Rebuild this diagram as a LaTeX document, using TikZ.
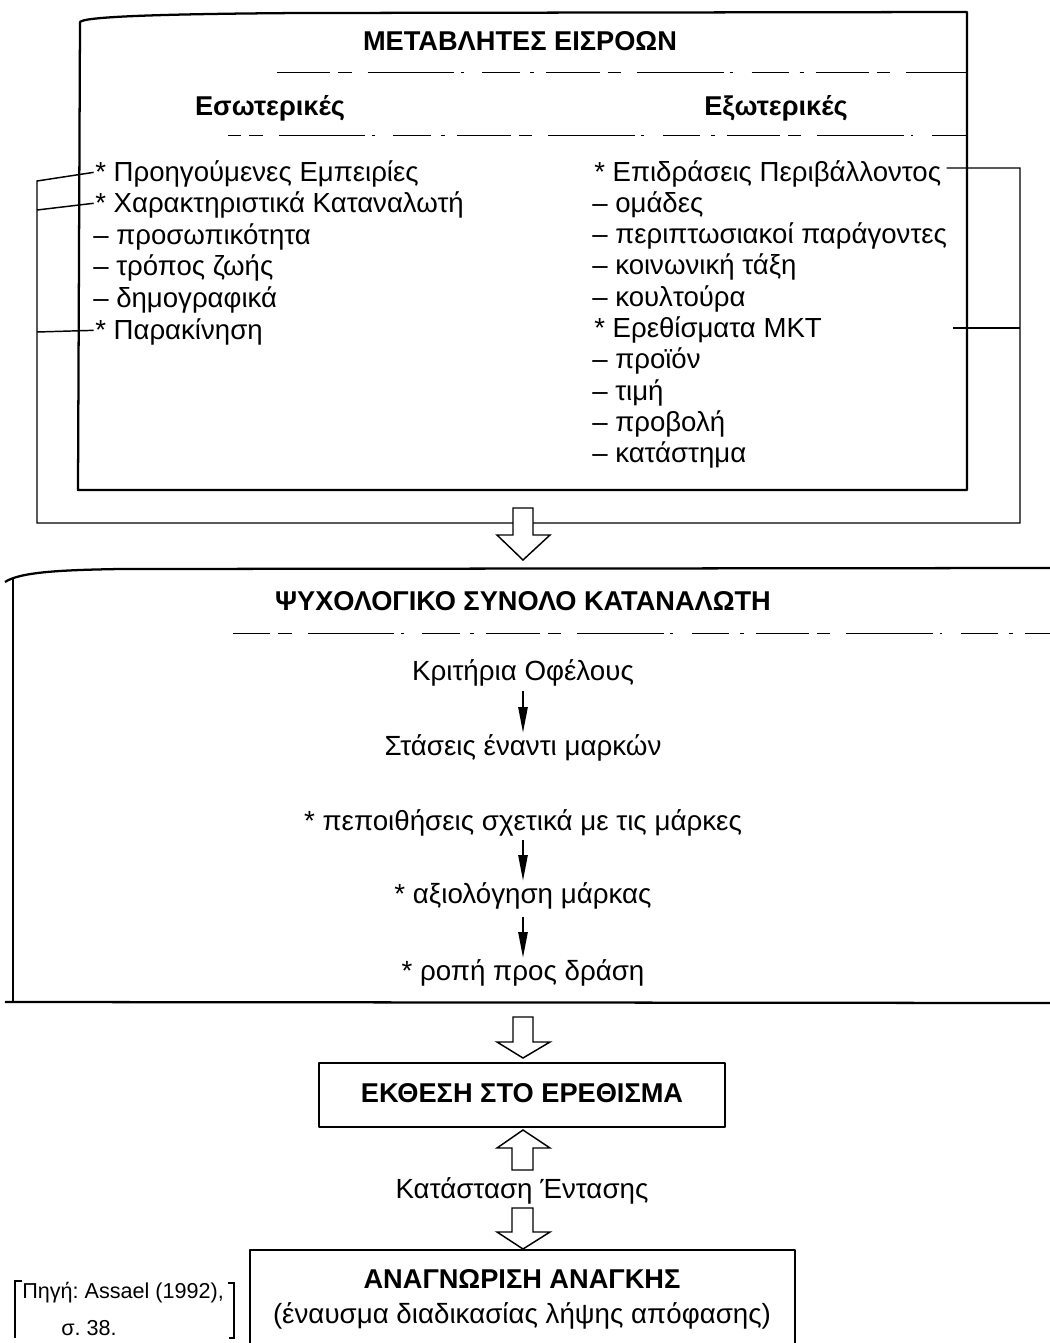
\documentclass[tikz,border=0pt]{standalone}
\usepackage{fontspec}
\setmainfont{Liberation Sans}
\usetikzlibrary{arrows.meta}
\begin{document}
\frenchspacing
\begin{tikzpicture}[x=0.75pt,y=-0.75pt,
  txt/.style={inner sep=0pt, font=\fontsize{20.7}{24}\selectfont},
  ttl/.style={inner sep=0pt, font=\fontsize{20.4}{24}\selectfont\bfseries},
  mtxt/.style={inner sep=0pt, font=\fontsize{20.8}{24}\selectfont},
  src/.style={inner sep=0pt, font=\fontsize{16.2}{20}\selectfont},
  frame/.style={line width=1.7pt, line join=round},
  dsh/.style={line width=0.7pt, dash pattern=on 40pt off 6pt on 10pt off 12pt on 65pt off 5pt on 2pt off 14pt on 28pt off 8pt on 3pt off 9pt},
  blockarrow/.style={line width=1.1pt, line join=miter, fill=white},
  smallarrow/.style={line width=1.1pt, -{Triangle[length=19pt,width=7pt]}},
  bracket/.style={line width=1.1pt}
]
\useasboundingbox (0,0) rectangle (1050,1343);

% ---------- top box ----------
\coordinate (tbTL) at (80,22);
\coordinate (tbTR) at (967,12);
\coordinate (tbBL) at (78,490);
\coordinate (tbBR) at (967,490);
\draw[frame] (tbBL) -- (tbTL) .. controls (84,17) and (150,14) .. (300,13) -- (tbTR) -- (tbBR) -- cycle;

\node[ttl, anchor=base] (t1) at (520,50) {ΜΕΤΑΒΛΗΤΕΣ ΕΙΣΡΟΩΝ};
\coordinate (d1a) at (277,72); \coordinate (d1b) at (966,72);
\draw[dsh] (d1a) -- (d1b);
\node[ttl, anchor=base] (int) at (270,115) {Εσωτερικές};
\node[ttl, anchor=base] (ext) at (776,115) {Εξωτερικές};
\coordinate (d2a) at (228,135); \coordinate (d2b) at (966,135);
\draw[dsh, dash phase=30pt] (d2a) -- (d2b);

% left list
\node[txt, anchor=base west] (l1) at (95,181) {* Προηγούμενες Εμπειρίες};
\node[txt, anchor=base west] (l2) at (95,212.6) {* Χαρακτηριστικά Καταναλωτή};
\node[txt, anchor=base west] (l3) at (93,244.2) {– προσωπικότητα};
\node[txt, anchor=base west] (l4) at (93,275.8) {– τρόπος ζωής};
\node[txt, anchor=base west] (l5) at (93,307.4) {– δημογραφικά};
\node[txt, anchor=base west] (l6) at (95,339) {* Παρακίνηση};

% right list
\node[txt, anchor=base west] (r1) at (594,181) {* Επιδράσεις Περιβάλλοντος};
\node[txt, anchor=base west] (r2) at (592,212.3) {– ομάδες};
\node[txt, anchor=base west] (r3) at (592,243.6) {– περιπτωσιακοί παράγοντες};
\node[txt, anchor=base west] (r4) at (592,274.9) {– κοινωνική τάξη};
\node[txt, anchor=base west] (r5) at (592,306.2) {– κουλτούρα};
\node[txt, anchor=base west] (r6) at (594,337.5) {* Ερεθίσματα ΜΚΤ};
\node[txt, anchor=base west] (r7) at (592,368.8) {– προϊόν};
\node[txt, anchor=base west] (r8) at (592,400.1) {– τιμή};
\node[txt, anchor=base west] (r9) at (592,431.4) {– προβολή};
\node[txt, anchor=base west] (r10) at (592,462.7) {– κατάστημα};

% brackets
\coordinate (lbT) at (37,181);
\coordinate (lb2) at (37,210);
\coordinate (lb6) at (37,332);
\coordinate (lbB) at (37,523);
\coordinate (rbT) at (1020,168);
\coordinate (rb6) at (1020,328);
\coordinate (rbB) at (1020,523);
\coordinate (r6end) at (953,328);
\draw[bracket] ([xshift=-1pt,yshift=6.5pt]l1.base west) -- (lbT) -- (lbB) -- (rbB) -- (rbT) -- ([xshift=4pt,yshift=9.75pt]r1.base east);
\draw[bracket] ([xshift=-1pt,yshift=7pt]l2.base west) -- (lb2);
\draw[bracket] ([xshift=-1pt,yshift=6.5pt]l6.base west) -- (lb6);
\draw[bracket] (r6end) -- (rb6);

% ---------- middle box ----------
\coordinate (mbTL) at (13,578);
\coordinate (mbTR) at (1050,568);
\coordinate (mbBL) at (13,1002);
\draw[frame] (5,582) .. controls (20,572) and (60,570) .. (120,569) -- (mbTR);
\draw[frame] (mbTL) -- (mbBL);
\draw[frame] (5,1002) -- (1050,1003);

\node[ttl, anchor=base] (m0) at (523,610) {ΨΥΧΟΛΟΓΙΚΟ ΣΥΝΟΛΟ ΚΑΤΑΝΑΛΩΤΗ};
\coordinate (d3a) at (233,633); \coordinate (d3b) at (1050,633);
\draw[dsh, dash phase=12pt] (d3a) -- (d3b);
\node[mtxt, anchor=base] (m1) at (523,680) {Κριτήρια Οφέλους};
\node[mtxt, anchor=base] (m2) at (523,755) {Στάσεις έναντι μαρκών};
\node[mtxt, anchor=base] (m3) at (523,830) {* πεποιθήσεις σχετικά με τις μάρκες};
\node[mtxt, anchor=base] (m4) at (523,903) {* αξιολόγηση μάρκας};
\node[mtxt, anchor=base] (m5) at (523,980) {* ροπή προς δράση};
\draw[smallarrow] ([yshift=-4pt]m1.south) -- ([yshift=1pt]m2.north);
\draw[smallarrow] ([yshift=-3pt]m3.south) -- ([yshift=1pt]m4.north);
\draw[smallarrow] ([yshift=-6pt]m4.south) -- ([yshift=1pt]m5.north);

% ---------- block arrow 1 ----------
\draw[blockarrow] (513,508) -- (533,508) -- (533,535) -- (550,535) -- (523,560) -- (497,535) -- (513,535) -- cycle;
% block arrow 2
\draw[blockarrow] (513,1017) -- (533,1017) -- (533,1042) -- (550,1042) -- (523,1058) -- (497,1042) -- (513,1042) -- cycle;

% ---------- exposure box ----------
\node[draw, frame, minimum width=406*0.75pt, minimum height=64*0.75pt, inner sep=0pt] (ex) at (522,1095) {};
\node[ttl, anchor=base] (ext1) at (522,1102) {ΕΚΘΕΣΗ ΣΤΟ ΕΡΕΘΙΣΜΑ};

% up arrow
\draw[blockarrow] (512,1170) -- (512,1148) -- (497,1148) -- (523,1130) -- (550,1148) -- (533,1148) -- (533,1170) -- cycle;
\node[mtxt, anchor=base] (ks) at (522,1198) {Κατάσταση Έντασης};
% down arrow
\draw[blockarrow] (512,1208) -- (533,1208) -- (533,1232) -- (550,1232) -- (523,1249) -- (497,1232) -- (512,1232) -- cycle;

% ---------- need recognition box ----------
\coordinate (nbBL) at (250,1343);
\coordinate (nbTL) at (250,1250);
\coordinate (nbTR) at (795,1250);
\coordinate (nbBR) at (795,1343);
\draw[frame] (nbBL) -- (nbTL) -- (nbTR) -- (nbBR);
\node[ttl, anchor=base] (nr1) at (522,1288) {ΑΝΑΓΝΩΡΙΣΗ ΑΝΑΓΚΗΣ};
\node[mtxt, anchor=base] (nr2) at (522,1323) {(έναυσμα διαδικασίας λήψης απόφασης)};

% source
\node[src, anchor=base west] (s1) at (22,1298) {Πηγή: Assael (1992),};
\node[src, anchor=base west] (s2) at (61,1335) {σ. 38.};
\draw[line width=1pt] (22,1281) -- (15,1281) -- (15,1338);
\draw[line width=1pt] (228,1283) -- (234,1283) -- (234,1338) -- (229,1338);
\end{tikzpicture}
\end{document}
